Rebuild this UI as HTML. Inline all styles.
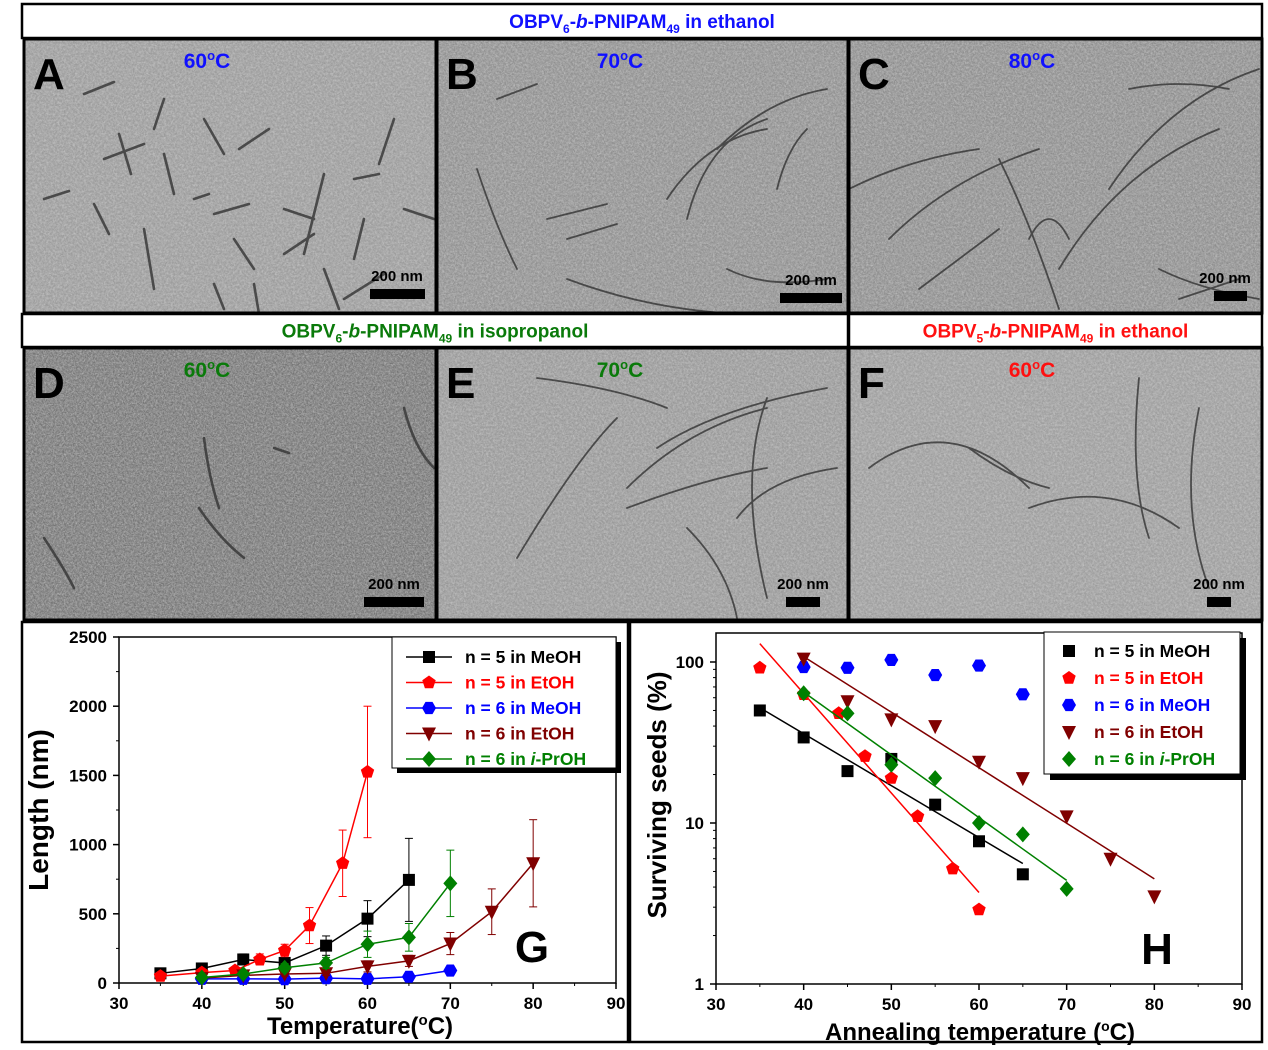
<!DOCTYPE html>
<html><head><meta charset="utf-8"><style>
html,body{margin:0;padding:0;background:#fff;}
body{width:1268px;height:1045px;position:relative;overflow:hidden;font-family:"Liberation Sans",sans-serif;}
svg text{font-family:"Liberation Sans",sans-serif;font-weight:bold;}
</style></head><body>
<svg id="fig" width="1268" height="1045" viewBox="0 0 1268 1045" xmlns="http://www.w3.org/2000/svg">
<defs>
<filter id="noise" x="0" y="0" width="100%" height="100%">
<feTurbulence type="fractalNoise" baseFrequency="0.9" numOctaves="2" seed="3"/>
<feColorMatrix type="matrix" values="0 0 0 0 0.5  0 0 0 0 0.5  0 0 0 0 0.5  1.6 0 0 0 -0.5"/>
</filter>
<filter id="noise2" x="0" y="0" width="100%" height="100%">
<feTurbulence type="fractalNoise" baseFrequency="0.45" numOctaves="2" seed="7"/>
<feColorMatrix type="matrix" values="0 0 0 0 1  0 0 0 0 1  0 0 0 0 1  1.6 0 0 0 -0.55"/>
</filter>
</defs>
<g id="tem"></g>
<g id="headers"></g>
<g id="chartG"></g>
<g id="chartH"></g>
</svg>
<script>
const NS='http://www.w3.org/2000/svg';
function mk(tag,attrs,parent){const e=document.createElementNS(NS,tag);for(const k in attrs)e.setAttribute(k,attrs[k]);parent.appendChild(e);return e;}
function txt(str,attrs,parent){const e=mk('text',attrs,parent);e.textContent=str;return e;}

/* ---------- Headers ---------- */
const H=document.getElementById('headers');
function header(x,y,w,h,parts,color,name){
  const r=mk('rect',{x:x,y:y,width:w,height:h,fill:'#fff',stroke:'#000','stroke-width':2.5},H);
  
  
  const t=mk('text',{x:x+w/2,y:y+h/2+7,'text-anchor':'middle','font-size':19,fill:color},H);
  
  
  for(const p of parts){const s=mk('tspan',p.a||{},t);s.textContent=p.t;}
}
function titleParts(n,solv){return [{t:'OBPV'},{t:n,a:{'font-size':12,dy:5}},{t:'-',a:{dy:-5}},{t:'b',a:{'font-style':'italic'}},{t:'-PNIPAM'},{t:'49',a:{'font-size':12,dy:5}},{t:' in '+solv,a:{dy:-5}}];}

/* ---------- TEM panels ---------- */
const T=document.getElementById('tem');
const panels=[
 {id:'A',x:24,y:39,w:412,h:274,bg:'#9a9a9a',temp:'60',tc:'#1010ff',bar:[370,425],lab:[397,281]},
 {id:'B',x:437,y:39,w:411,h:274,bg:'#8e8e8e',temp:'70',tc:'#1010ff',bar:[780,842],lab:[811,285]},
 {id:'C',x:849,y:39,w:413,h:274,bg:'#8c8c8c',temp:'80',tc:'#1010ff',bar:[1214,1247],lab:[1225,283]},
 {id:'D',x:24,y:348,w:412,h:272,bg:'#727272',temp:'60',tc:'#0a7a0a',bar:[364,424],lab:[394,589]},
 {id:'E',x:437,y:348,w:411,h:272,bg:'#979797',temp:'70',tc:'#0a7a0a',bar:[786,820],lab:[803,589]},
 {id:'F',x:849,y:348,w:413,h:272,bg:'#9c9c9c',temp:'60',tc:'#ff1010',bar:[1207,1231],lab:[1219,589]}
];
const strokes={
 A:['M60 55 l30 -12','M95 95 l12 40','M140 60 l-10 30','M180 80 l20 35','M215 110 l30 -20','M80 120 l40 -15','M140 115 l10 40','M170 160 l15 -5','M190 175 l35 -10','M260 170 l30 10','M300 135 l-20 80','M330 140 l25 -5','M370 80 l-15 45','M380 170 l30 10','M70 165 l15 30','M120 190 l10 60','M210 200 l20 30','M260 215 l30 -20','M300 230 l15 40','M340 180 l-10 40','M20 160 l25 -8','M320 260 l40 -25','M230 245 l5 30','M200 270 l-10 -25'],
 B:['M40 130 q20 60 40 100','M110 180 l60 -15','M130 200 l50 -15','M230 160 q40 -60 100 -70','M250 180 q20 -80 80 -100','M280 110 q50 -50 110 -60','M290 230 q40 20 100 10','M130 240 q80 30 170 35','M60 60 l40 -15','M340 150 q10 -40 30 -60'],
 C:['M0 150 q60 -30 130 -40','M40 200 q60 -60 150 -90','M150 120 q30 60 60 150','M180 200 q20 -40 40 0','M210 230 q60 -100 160 -140','M260 150 q60 -90 150 -120','M310 230 q40 20 100 30','M70 250 l80 -60','M280 50 q50 -10 100 0','M330 260 l60 -20'],
 D:['M180 90 q5 40 15 70','M175 160 q20 30 45 50','M380 60 q10 40 30 60','M20 190 q20 30 30 50','M250 100 l15 5'],
 E:['M80 210 q60 -100 100 -140','M190 140 q60 -60 140 -80','M190 160 q80 -30 140 -40','M220 100 q60 -40 170 -60','M100 30 q80 10 130 30','M330 50 q-30 80 0 200','M250 180 q40 40 50 90','M300 170 q30 -40 100 -50'],
 F:['M20 120 q80 -60 160 20','M180 160 q80 -30 150 20','M290 30 q-10 100 10 160','M350 60 q-20 100 10 180','M120 100 q40 30 80 40']
};
for(const p of panels){
  const g=mk('g',{},T);
  
  
  mk('rect',{x:p.x,y:p.y,width:p.w,height:p.h,fill:p.bg},g);
  mk('rect',{x:p.x,y:p.y,width:p.w,height:p.h,filter:'url(#noise)',opacity:0.7},g);
  mk('rect',{x:p.x,y:p.y,width:p.w,height:p.h,filter:'url(#noise2)',opacity:0.35},g);
  const sg=mk('g',{transform:'translate('+p.x+','+p.y+')',fill:'none',stroke:'#333','stroke-width':p.id==='A'||p.id==='D'?2.6:1.8,'stroke-linecap':'round',opacity:0.8},g);
  for(const d of strokes[p.id])mk('path',{d:d},sg);
  mk('rect',{x:p.x,y:p.y,width:p.w,height:p.h,fill:'none',stroke:'#000','stroke-width':3},g);
  const L=txt(p.id,{x:p.x+9,y:p.y+50,'font-size':44,fill:'#000'},g);
  
  
  const tt=mk('text',{x:p.x+183,y:p.y+29,'text-anchor':'middle','font-size':21,fill:p.tc},g);
  
  
  let s=mk('tspan',{},tt);s.textContent=p.temp;
  s=mk('tspan',{'font-size':13,dy:-8},tt);s.textContent='o';
  s=mk('tspan',{dy:8},tt);s.textContent='C';
  const sl=txt('200 nm',{x:p.lab[0],y:p.lab[1],'text-anchor':'middle','font-size':15,fill:'#000'},g);
  
  
  const sb=mk('rect',{x:p.bar[0],y:p.lab[1]+8,width:p.bar[1]-p.bar[0],height:10,fill:'#000'},g);
  
  
}
header(22,4,1240,34,titleParts('6','ethanol'),'#1010ff','title-ethanol-n6');
header(22,314,826,33,titleParts('6','isopropanol'),'#0a7a0a','title-isopropanol-n6');
header(849,314,413,33,titleParts('5','ethanol'),'#ff1010','title-ethanol-n5');

/* ---------- Marker ---------- */
function marker(shape,x,y,col,parent,sz){
  const s=sz||7;let e;
  if(shape==='square')e=mk('rect',{x:x-s+1,y:y-s+1,width:2*s-2,height:2*s-2,fill:col},parent);
  else if(shape==='pent'||shape==='hex'){const n=shape==='pent'?5:6;let pts=[];for(let i=0;i<n;i++){const a=-Math.PI/2+i*2*Math.PI/n+(n===6?Math.PI/6:0);pts.push((x+s*Math.cos(a)).toFixed(1)+','+(y+s*Math.sin(a)).toFixed(1));}e=mk('polygon',{points:pts.join(' '),fill:col},parent);}
  else if(shape==='tri')e=mk('polygon',{points:(x-s)+','+(y-s+1)+' '+(x+s)+','+(y-s+1)+' '+x+','+(y+s+1),fill:col},parent);
  else e=mk('polygon',{points:x+','+(y-s-1)+' '+(x+s)+','+y+' '+x+','+(y+s+1)+' '+(x-s)+','+y,fill:col},parent);
  return e;
}

/* ---------- Chart G data ---------- */
const gLabels=['n = 5 in MeOH','n = 5 in EtOH','n = 6 in MeOH','n = 6 in EtOH','n = 6 in '];
const gColors=['#000000','#ff0000','#0000ff','#800000','#008000'];
const gShapes=['square','pent','hex','tri','diam'];
const gX0=[35,40,45,50,55,60,65];
const gY0=[70,105,170,145,270,465,745];
const gE0=[15,20,40,30,70,130,300];
const gX1=[35,40,44,47,50,53,57,60];
const gY1=[50,75,90,170,235,415,865,1525];
const gE1=[10,15,20,40,45,130,240,475];
const gX2=[40,45,50,55,60,65,70];
const gY2=[30,30,28,35,30,45,90];
const gE2=[5,5,5,5,5,8,10];
const gX3=[40,45,50,55,60,65,70,75,80];
const gY3=[35,55,65,70,120,160,285,515,865];
const gE3=[8,10,15,15,40,40,80,165,315];
const gX4=[40,45,50,55,60,65,70];
const gY4=[40,65,110,145,280,330,720];
const gE4=[10,15,30,40,95,100,240];
const gXticks=[30,40,50,60,70,80,90];
const gYticks=[0,500,1000,1500,2000,2500];

/* ---------- Chart H data ---------- */
const hX0=[35,40,45,50,55,60,65];
const hY0=[50,34,21,25,13,7.7,4.8];
const hFit0=[[35,52],[65,5.6]];
const hX1=[35,40,44,47,50,53,57,60];
const hY1=[92,63,48,26,19,11,5.2,2.9];
const hFit1=[[35,130],[60,3.7]];
const hX2=[40,45,50,55,60,65];
const hY2=[93,92,103,83,95,63];
const hX3=[40,45,50,55,60,65,70,75,80];
const hY3=[105,57,44,40,24,19,11,6,3.5];
const hFit3=[[40,108],[80,4.5]];
const hX4=[40,45,50,55,60,65,70];
const hY4=[64,48,23,19,10,8.5,3.9];
const hFit4=[[40,65],[70,4.4]];
const hXticks=[30,40,50,60,70,80,90];
const hYticks=[1,10,100];

/* ---------- Draw G ---------- */
(function(){
  const G=document.getElementById('chartG');
  const L=119,R=616,Tp=637,B=983;
  const xs=v=>L+(v-30)/60*(R-L), ys=v=>B-v/2500*(B-Tp);
  const box=mk('rect',{x:22,y:622,width:606,height:420,fill:'#fff',stroke:'#000','stroke-width':2.5},G);
  
  
  const ax=mk('rect',{x:L,y:Tp,width:R-L,height:B-Tp,fill:'none',stroke:'#000','stroke-width':1.5},G);
  
  
  for(const t of gXticks){
    mk('line',{x1:xs(t),x2:xs(t),y1:B,y2:B+6,stroke:'#000','stroke-width':1.5},G);
    if(t<90)mk('line',{x1:xs(t+5),x2:xs(t+5),y1:B,y2:B+3,stroke:'#000'},G);
    const e=txt(t,{x:xs(t),y:B+26,'text-anchor':'middle','font-size':17},G);
    
    
  }
  for(const t of gYticks){
    mk('line',{x1:L-6,x2:L,y1:ys(t),y2:ys(t),stroke:'#000','stroke-width':1.5},G);
    if(t<2500)mk('line',{x1:L-3,x2:L,y1:ys(t+250),y2:ys(t+250),stroke:'#000'},G);
    const e=txt(t,{x:L-12,y:ys(t)+6,'text-anchor':'end','font-size':17},G);
    
    
  }
  const xt=mk('text',{x:360,y:1034,'text-anchor':'middle','font-size':24},G);
  
  
  let s=mk('tspan',{},xt);s.textContent='Temperature(';
  s=mk('tspan',{'font-size':15,dy:-9},xt);s.textContent='o';
  s=mk('tspan',{dy:9},xt);s.textContent='C)';
  const yt=txt('Length (nm)',{x:0,y:0,'text-anchor':'middle','font-size':28,transform:'translate(48,810) rotate(-90)'},G);
  
  
  const series=[[gX0,gY0,gE0],[gX1,gY1,gE1],[gX2,gY2,gE2],[gX3,gY3,gE3],[gX4,gY4,gE4]];
  series.forEach((sr,i)=>{
    const g=mk('g',{},G);
    
    
    const [X,Y,E]=sr,c=gColors[i];
    for(let j=0;j<X.length;j++){
      const x=xs(X[j]);
      mk('line',{x1:x,x2:x,y1:ys(Y[j]-E[j]),y2:ys(Y[j]+E[j]),stroke:c,'stroke-width':1},g);
      mk('line',{x1:x-4,x2:x+4,y1:ys(Y[j]+E[j]),y2:ys(Y[j]+E[j]),stroke:c,'stroke-width':1},g);
      mk('line',{x1:x-4,x2:x+4,y1:ys(Y[j]-E[j]),y2:ys(Y[j]-E[j]),stroke:c,'stroke-width':1},g);
    }
    mk('polyline',{points:X.map((v,j)=>xs(v)+','+ys(Y[j])).join(' '),fill:'none',stroke:c,'stroke-width':1.5},g);
    for(let j=0;j<X.length;j++){const m=marker(gShapes[i],xs(X[j]),ys(Y[j]),c,g,7);
      
      }
  });
  const lg=mk('g',{},G);
  
  
  mk('rect',{x:397,y:642,width:224,height:131,fill:'#000'},lg);
  mk('rect',{x:392,y:637,width:224,height:131,fill:'#fff',stroke:'#000','stroke-width':1},lg);
  gLabels.forEach((lab,i)=>{
    const y=657+i*25.5;
    const ent=mk('g',{},lg);
    
    
    mk('line',{x1:406,x2:452,y1:y,y2:y,stroke:gColors[i],'stroke-width':1.5},ent);
    marker(gShapes[i],429,y,gColors[i],ent,7);
    const t=mk('text',{x:465,y:y+6,'font-size':17.5,fill:gColors[i]},ent);
    let s=mk('tspan',{},t);s.textContent=lab;
    if(i===4){s=mk('tspan',{'font-style':'italic'},t);s.textContent='i';s=mk('tspan',{},t);s.textContent='-PrOH';}
  });
  const gl=txt('G',{x:532,y:962,'text-anchor':'middle','font-size':44,fill:'#000'},G);
  
  
})();

/* ---------- Draw H ---------- */
(function(){
  const G=document.getElementById('chartH');
  const L=716,R=1242,Tp=633,B=984;
  const dec=161;
  const xs=v=>L+(v-30)/60*(R-L), ys=v=>B-Math.log10(v)*dec;
  const box=mk('rect',{x:630,y:622,width:632,height:420,fill:'#fff',stroke:'#000','stroke-width':2.5},G);
  
  
  const ax=mk('rect',{x:L,y:Tp,width:R-L,height:B-Tp,fill:'none',stroke:'#000','stroke-width':1.5},G);
  
  
  for(const t of hXticks){
    mk('line',{x1:xs(t),x2:xs(t),y1:B,y2:B+6,stroke:'#000','stroke-width':1.5},G);
    if(t<90)mk('line',{x1:xs(t+5),x2:xs(t+5),y1:B,y2:B+3,stroke:'#000'},G);
    const e=txt(t,{x:xs(t),y:B+26,'text-anchor':'middle','font-size':17},G);
    
    
  }
  for(const t of hYticks){
    mk('line',{x1:L-6,x2:L,y1:ys(t),y2:ys(t),stroke:'#000','stroke-width':1.5},G);
    for(let k=2;k<10;k++){const v=t*k;if(ys(v)>=Tp)mk('line',{x1:L-3,x2:L,y1:ys(v),y2:ys(v),stroke:'#000'},G);}
    const e=txt(t,{x:L-12,y:ys(t)+6,'text-anchor':'end','font-size':17},G);
    
    
  }
  const xt=mk('text',{x:980,y:1040,'text-anchor':'middle','font-size':24},G);
  
  
  let s=mk('tspan',{},xt);s.textContent='Annealing temperature (';
  s=mk('tspan',{'font-size':14,dy:-9},xt);s.textContent='o';
  s=mk('tspan',{dy:9},xt);s.textContent='C)';
  const yt=txt('Surviving seeds (%)',{x:0,y:0,'text-anchor':'middle','font-size':26,transform:'translate(666,795) rotate(-90)'},G);
  
  
  const series=[[hX0,hY0,hFit0],[hX1,hY1,hFit1],[hX2,hY2,null],[hX3,hY3,hFit3],[hX4,hY4,hFit4]];
  series.forEach((sr,i)=>{
    const g=mk('g',{},G);
    
    
    const [X,Y,F]=sr,c=gColors[i];
    if(F){const f=mk('line',{x1:xs(F[0][0]),y1:ys(F[0][1]),x2:xs(F[1][0]),y2:ys(F[1][1]),stroke:c,'stroke-width':1.5},g);
      
      }
    for(let j=0;j<X.length;j++){const m=marker(gShapes[i],xs(X[j]),ys(Y[j]),c,g,7);
      
      }
  });
  const lg=mk('g',{},G);
  
  
  mk('rect',{x:1050,y:638,width:196,height:142,fill:'#000'},lg);
  mk('rect',{x:1044,y:632,width:196,height:142,fill:'#fff',stroke:'#000','stroke-width':1},lg);
  gLabels.forEach((lab,i)=>{
    const y=651+i*27;
    const ent=mk('g',{},lg);
    
    
    marker(gShapes[i],1069,y,gColors[i],ent,7);
    const t=mk('text',{x:1094,y:y+6,'font-size':17.5,fill:gColors[i]},ent);
    let s=mk('tspan',{},t);s.textContent=lab;
    if(i===4){s=mk('tspan',{'font-style':'italic'},t);s.textContent='i';s=mk('tspan',{},t);s.textContent='-PrOH';}
  });
  const hl=txt('H',{x:1157,y:964,'text-anchor':'middle','font-size':44,fill:'#000'},G);
  
  
})();
</script>
</body></html>
